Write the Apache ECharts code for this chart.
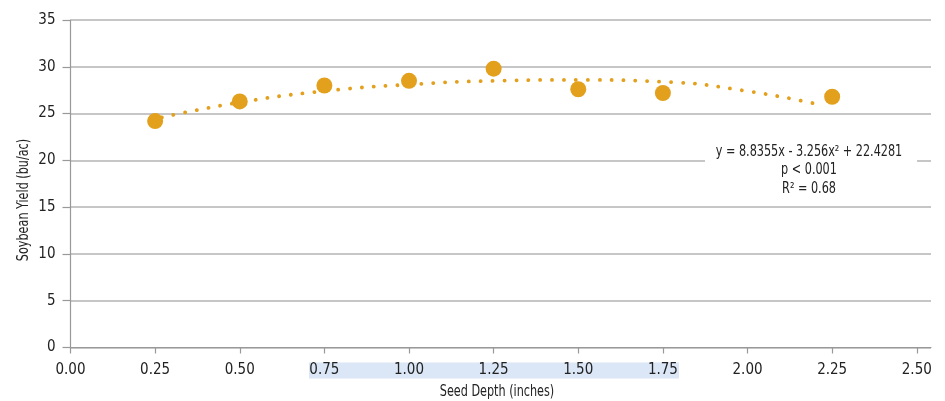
<!DOCTYPE html>
<html><head><meta charset="utf-8">
<script src="https://cdn.jsdelivr.net/npm/echarts@6/dist/echarts.min.js"></script>
<style>html,body{margin:0;padding:0;background:#fff}#c{width:945px;height:401px}</style>
</head><body><div id="c"></div>
<script>
// Observed points (seed depth in inches, yield bu/ac)
const depths = [0.25, 0.50, 0.75, 1.00, 1.25, 1.50, 1.75, 2.25];
const yields = [24.2, 26.3, 28.0, 28.5, 29.8, 27.6, 27.2, 26.8];
// Trend line
const trendX = [0.27, 0.50, 0.75, 1.00, 1.25, 1.50, 1.75, 2.00, 2.22];
const trendY = [24.6, 26.2, 27.4, 28.1, 28.5, 28.6, 28.4, 27.4, 25.9];
const xTicks = [0, 0.25, 0.5, 0.75, 1.0, 1.25, 1.5, 1.75, 2.0, 2.25, 2.5];
const eqLines = ['y = 8.8355x - 3.256x² + 22.4281', 'p < 0.001', 'R² = 0.68'];

const FONT = "'Liberation Sans Narrow','DejaVu Sans Condensed','Roboto Condensed',sans-serif";
const ORANGE = '#e2a01d';
const SX = 0.78;
const chart = echarts.init(document.getElementById('c'), null, {renderer: 'canvas'});
chart.setOption({
  animation: false,
  grid: {left: 70.5, right: 14, top: 20, bottom: 53.5},
  xAxis: {
    type: 'value', min: 0, max: 2.542,
    axisLine: {lineStyle: {color: '#999', width: 1.2}},
    axisTick: {show: true, length: 6, customValues: xTicks, lineStyle: {color: '#999', width: 1.2}},
    axisLabel: {customValues: xTicks, formatter: v => v.toFixed(2), color: '#222', fontSize: 15, fontFamily: FONT, margin: 15},
    splitLine: {show: false}
  },
  yAxis: {
    type: 'value', min: 0, max: 35, interval: 5,
    axisLine: {show: true, lineStyle: {color: '#999', width: 1.2}},
    axisTick: {show: true, length: 8, lineStyle: {color: '#999', width: 1.2}},
    axisLabel: {color: '#222', fontSize: 15, fontFamily: FONT, margin: 15},
    splitLine: {lineStyle: {color: '#b3b3b3', width: 1.5}}
  },
  series: [
    {
      type: 'line', smooth: true, symbol: 'none', z: 2,
      data: trendX.map((x, i) => [x, trendY[i]]),
      lineStyle: {color: ORANGE, width: 3.8, type: [0.1, 11.8], cap: 'round'}
    },
    {
      type: 'scatter', symbolSize: 16, z: 3,
      data: depths.map((x, i) => [x, yields[i]]),
      itemStyle: {color: ORANGE, opacity: 1}
    }
  ],
  graphic: [
    {type: 'rect', z: -10, shape: {x: 309, y: 362.5, width: 370, height: 16}, style: {fill: '#dbe6f6'}},
    {type: 'rect', z: 10, shape: {x: 705, y: 141, width: 212, height: 56}, style: {fill: '#fff'}},
    {type: 'text', z: 11, x: 809, y: 152, scaleX: SX, style: {text: eqLines[0], align: 'center', verticalAlign: 'middle', font: '16px ' + FONT, fill: '#222'}},
    {type: 'text', z: 11, x: 809, y: 170, scaleX: SX, style: {text: eqLines[1], align: 'center', verticalAlign: 'middle', font: '16px ' + FONT, fill: '#222'}},
    {type: 'text', z: 11, x: 809, y: 189, scaleX: SX, style: {text: eqLines[2], align: 'center', verticalAlign: 'middle', font: '16px ' + FONT, fill: '#222'}},
    {type: 'text', x: 497, y: 392, scaleX: SX, style: {text: 'Seed Depth (inches)', align: 'center', verticalAlign: 'middle', font: '16px ' + FONT, fill: '#222'}},
    {type: 'text', x: 24, y: 200, rotation: Math.PI / 2, scaleX: SX, style: {text: 'Soybean Yield (bu/ac)', align: 'center', verticalAlign: 'middle', font: '16px ' + FONT, fill: '#222'}}
  ]
});
</script></body></html>
